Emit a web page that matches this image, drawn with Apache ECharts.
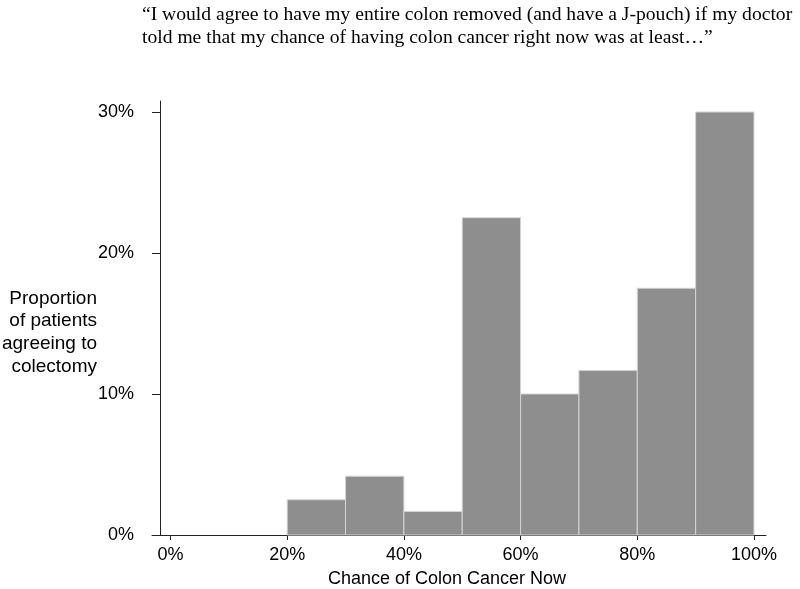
<!DOCTYPE html>
<html>
<head>
<meta charset="utf-8">
<script src="https://cdn.jsdelivr.net/npm/echarts@6/dist/echarts.min.js"></script>
<style>html,body{margin:0;padding:0;background:#fff;}#c{width:800px;height:589px;}</style>
</head>
<body>
<div id="c"></div>
<script>
// Histogram bins (percent chance of colon cancer now)
var binStart = [0, 10, 20, 30, 40, 50, 60, 70, 80, 90];
var binEnd   = [10, 20, 30, 40, 50, 60, 70, 80, 90, 100];
// Proportion of patients agreeing to colectomy (%)
var proportion = [0, 0, 2.5, 4.17, 1.67, 22.5, 10, 11.67, 17.5, 30];
var xTicks = [0, 20, 40, 60, 80, 100];
var yTicks = [0, 10, 20, 30];
var titleText = '\u201CI would agree to have my entire colon removed (and have a J-pouch) if my doctor\ntold me that my chance of having colon cancer right now was at least\u2026\u201D';
var xName = 'Chance of Colon Cancer Now';
var yName = 'Proportion\nof patients\nagreeing to\ncolectomy';

var data = binStart.map(function (s, i) { return [s, binEnd[i], proportion[i]]; });

var chart = echarts.init(document.getElementById('c'), null, { renderer: 'canvas' });
var font = '"Liberation Sans", Arial, sans-serif';
chart.setOption({
  animation: false,
  backgroundColor: '#ffffff',
  graphic: [
    { type: 'text', x: 142, y: 3, style: { text: titleText, font: '19.6px "Liberation Serif", "Times New Roman", serif', fill: '#000', lineHeight: 23 } },
    { type: 'text', x: 97, y: 287, style: { text: yName, font: '19px ' + font, fill: '#000', align: 'right', textAlign: 'right', lineHeight: 22.7 } },
    { type: 'text', x: 447, y: 579, style: { text: xName, font: '18px ' + font, fill: '#000', align: 'center', textAlign: 'center', verticalAlign: 'middle', textBaseline: 'middle' } }
  ],
  grid: { left: 152, right: 34, top: 101, bottom: 54 },
  xAxis: {
    type: 'value', min: -3.17, max: 102.06,
    splitLine: { show: false },
    axisLine: { show: true, onZero: false, lineStyle: { color: '#222', width: 1 } },
    axisTick: { show: true, length: 5, customValues: xTicks, lineStyle: { color: '#222' } },
    axisLabel: { customValues: xTicks, formatter: '{value}%', color: '#000', fontFamily: font, fontSize: 18, margin: 11 }
  },
  yAxis: {
    type: 'value', min: 0, max: 30.78, offset: -8,
    splitLine: { show: false },
    axisLine: { show: true, onZero: false, lineStyle: { color: '#222', width: 1 } },
    axisTick: { show: true, length: 8, customValues: yTicks, lineStyle: { color: '#222' } },
    axisLabel: { customValues: yTicks, formatter: '{value}%', color: '#000', fontFamily: font, fontSize: 18, margin: 26 }
  },
  series: [{
    type: 'custom',
    data: data,
    encode: { x: [0, 1], y: 2 },
    renderItem: function (params, api) {
      if (api.value(2) <= 0) return null;
      var p0 = api.coord([api.value(0), 0]);
      var p1 = api.coord([api.value(1), api.value(2)]);
      return {
        type: 'rect',
        shape: { x: p0[0], y: p1[1], width: p1[0] - p0[0], height: p0[1] - p1[1] },
        style: { fill: '#8e8e8e', stroke: '#d4d4d4', lineWidth: 1 }
      };
    }
  }]
});
</script>
</body>
</html>
